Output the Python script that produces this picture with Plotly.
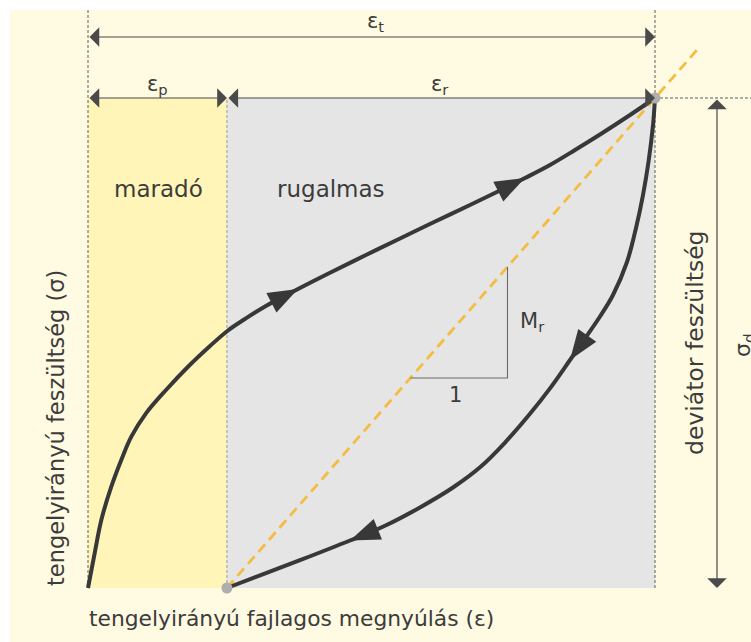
import math
import plotly.graph_objects as go

# Normalised quantities: strain as a fraction of total strain, stress as a fraction of deviator stress
eps_p = 0.245     # permanent (plastic) strain
eps_t = 1.0       # total strain
sigma_d = 1.0     # deviator stress

# Loading branch
load_eps = [0.0, 0.0118, 0.0235, 0.0411, 0.0587, 0.0764, 0.1023, 0.1376, 0.1764,
            0.2152, 0.2469, 0.2769, 0.3122, 0.3704, 0.4268, 0.4885, 0.5503, 0.6085,
            0.6737, 0.7266, 0.7707, 0.8148, 0.8589, 0.9030, 0.9559, 1.0]
load_sig = [0.0, 0.0714, 0.1388, 0.2067, 0.2612, 0.3088, 0.3565, 0.4041, 0.4516,
            0.4939, 0.5255, 0.5490, 0.5745, 0.6102, 0.6435, 0.6786, 0.7133, 0.7459,
            0.7816, 0.8112, 0.8367, 0.8633, 0.8939, 0.9255, 0.9653, 1.0]
load_arrow_idx = [13, 20]

# Unloading branch
unload_eps = [1.0, 0.9965, 0.9885, 0.9788, 0.9665, 0.9506, 0.9259, 0.9030, 0.8783,
              0.8501, 0.8148, 0.7795, 0.7355, 0.6914, 0.6437, 0.5855, 0.5238, 0.4621,
              0.3739, 0.3034, 0.245]
unload_sig = [1.0, 0.9449, 0.8694, 0.8020, 0.7347, 0.6653, 0.5980, 0.5541, 0.5122,
              0.4653, 0.4074, 0.3555, 0.2969, 0.2463, 0.2051, 0.1645, 0.1271, 0.0969,
              0.0567, 0.0257, 0.0]
unload_arrow_idx = [9, 17]

# Resilient modulus: secant from the end of unloading to the peak
M_r = sigma_d / (eps_t - eps_p)

# ---- page geometry helpers (pixels -> axis units) ----
W, H = 751, 642
PX0, PXS = 88, 567     # pixel x of zero strain, pixels per unit strain
PY0, PYS = 588, 490    # pixel y of zero stress, pixels per unit stress


def ux(px):
    return (px - PX0) / PXS


def uy(py):
    return (PY0 - py) / PYS


INK = "#383838"
DIM = "#4a4a4a"
TXT = "#3c3c3c"
FONT = "DejaVu Sans"

fig = go.Figure()

# Secant (resilient modulus) line, extended past the peak
sec_y_end = uy(50)
fig.add_trace(go.Scatter(
    x=[eps_p, eps_p + sec_y_end / M_r], y=[0, sec_y_end],
    mode="lines", line=dict(color="#F4BC40", width=2.8, dash="10px,6px"),
    hoverinfo="skip", showlegend=False))

# Slope triangle under the secant
tri_y = uy(378)
tri_x = ux(507.5)
fig.add_trace(go.Scatter(
    x=[eps_p + tri_y / M_r, tri_x, tri_x],
    y=[tri_y, tri_y, (tri_x - eps_p) * M_r],
    mode="lines", line=dict(color="#6a6a6a", width=1.1),
    hoverinfo="skip", showlegend=False))


def arrowhead(xs, ys, i, length=30, half=11):
    """Filled triangle with its tip on point i, aligned with the local curve direction."""
    dxp = (xs[i + 1] - xs[i - 1]) * PXS
    dyp = (ys[i + 1] - ys[i - 1]) * PYS
    n = math.hypot(dxp, dyp)
    tx, ty = dxp / n, dyp / n
    bx, by = -length * tx, -length * ty
    nx, ny = -ty * half, tx * half
    px = [0, bx + nx, bx - nx, 0]
    py = [0, by + ny, by - ny, 0]
    return go.Scatter(
        x=[xs[i] + p / PXS for p in px], y=[ys[i] + q / PYS for q in py],
        mode="lines", fill="toself", fillcolor=INK, line=dict(width=0, color=INK),
        hoverinfo="skip", showlegend=False)


def branch(xs, ys):
    return go.Scatter(
        x=xs, y=ys, mode="lines",
        line=dict(color=INK, width=4, shape="spline", smoothing=1.0),
        hoverinfo="skip", showlegend=False)


fig.add_trace(branch(load_eps, load_sig))
fig.add_trace(branch(unload_eps, unload_sig))
for i in load_arrow_idx:
    fig.add_trace(arrowhead(load_eps, load_sig, i))
for i in unload_arrow_idx:
    fig.add_trace(arrowhead(unload_eps, unload_sig, i))

# Key points
fig.add_trace(go.Scatter(
    x=[eps_p, eps_t], y=[0, sigma_d], mode="markers",
    marker=dict(color="#AEAEAE", size=11, line=dict(width=0)),
    hoverinfo="skip", showlegend=False))

shapes = [
    # page background
    dict(type="rect", xref="x", yref="y", x0=ux(10), x1=ux(W), y0=uy(H), y1=uy(10),
         fillcolor="#FFFAE2", line=dict(width=0), layer="below"),
    # permanent strain region
    dict(type="rect", xref="x", yref="y", x0=0, x1=eps_p, y0=0, y1=sigma_d,
         fillcolor="#FFF5B9", line=dict(width=0), layer="below"),
    # resilient strain region
    dict(type="rect", xref="x", yref="y", x0=eps_p, x1=eps_t, y0=0, y1=sigma_d,
         fillcolor="#E5E5E5", line=dict(width=0), layer="below"),
]
guide = dict(color="#5e5e5e", width=1, dash="3px,2px")
shapes += [
    dict(type="line", xref="x", yref="y", x0=0, x1=0, y0=0, y1=uy(10), line=guide, layer="below"),
    dict(type="line", xref="x", yref="y", x0=eps_t, x1=eps_t, y0=0, y1=uy(10), line=guide, layer="below"),
    dict(type="line", xref="x", yref="y", x0=eps_p, x1=eps_p, y0=0, y1=sigma_d,
         line=dict(color="#9a9a9a", width=1, dash="3px,2px"), layer="below"),
    dict(type="line", xref="x", yref="y", x0=eps_t, x1=ux(W), y0=sigma_d, y1=sigma_d, line=guide, layer="below"),
]


def dim_arrow(x0, y0, x1, y1):
    return dict(x=x1, y=y1, ax=x0, ay=y0, xref="x", yref="y", axref="x", ayref="y",
                text="", showarrow=True, arrowside="end+start",
                arrowhead=1, startarrowhead=1, arrowsize=2.7, startarrowsize=2.7,
                arrowwidth=1.2, arrowcolor=DIM, standoff=0, startstandoff=0)


x_sd = ux(717)
annotations = [
    dim_arrow(0, uy(37), eps_t, uy(37)),
    dim_arrow(0, sigma_d, eps_p, sigma_d),
    dim_arrow(eps_p, sigma_d, eps_t, sigma_d),
    dim_arrow(x_sd, sigma_d, x_sd, 0),
]


def label(text, px, py, size=20, angle=0, xanchor="center"):
    return dict(x=ux(px), y=uy(py), xref="x", yref="y", text=text, showarrow=False,
                textangle=angle, xanchor=xanchor, yanchor="middle",
                font=dict(family=FONT, size=size, color=TXT))


annotations += [
    label("ε<sub>t</sub>", 375, 22, size=21),
    label("ε<sub>p</sub>", 157, 85, size=21),
    label("ε<sub>r</sub>", 440, 85, size=21),
    label("maradó", 158, 189, size=23),
    label("rugalmas", 331, 189, size=23),
    label("M<sub>r</sub>", 532, 322, size=21),
    label("1", 455, 395, size=21),
    label("tengelyirányú feszültség (σ)", 56, 428, size=22.5, angle=-90),
    label("deviátor feszültség", 695, 343, size=23.5, angle=-90),
    label("σ<sub>d</sub>", 744, 345, size=22, angle=-90),
    label("tengelyirányú fajlagos megnyúlás (ε)", 87, 618, size=21.8, xanchor="left"),
]

fig.update_layout(
    width=W, height=H, margin=dict(l=0, r=0, t=0, b=0),
    paper_bgcolor="white", plot_bgcolor="white",
    xaxis=dict(range=[ux(0), ux(W)], visible=False, fixedrange=True),
    yaxis=dict(range=[uy(H), uy(0)], visible=False, fixedrange=True),
    shapes=shapes, annotations=annotations, showlegend=False,
)

fig.write_html("out.html")
